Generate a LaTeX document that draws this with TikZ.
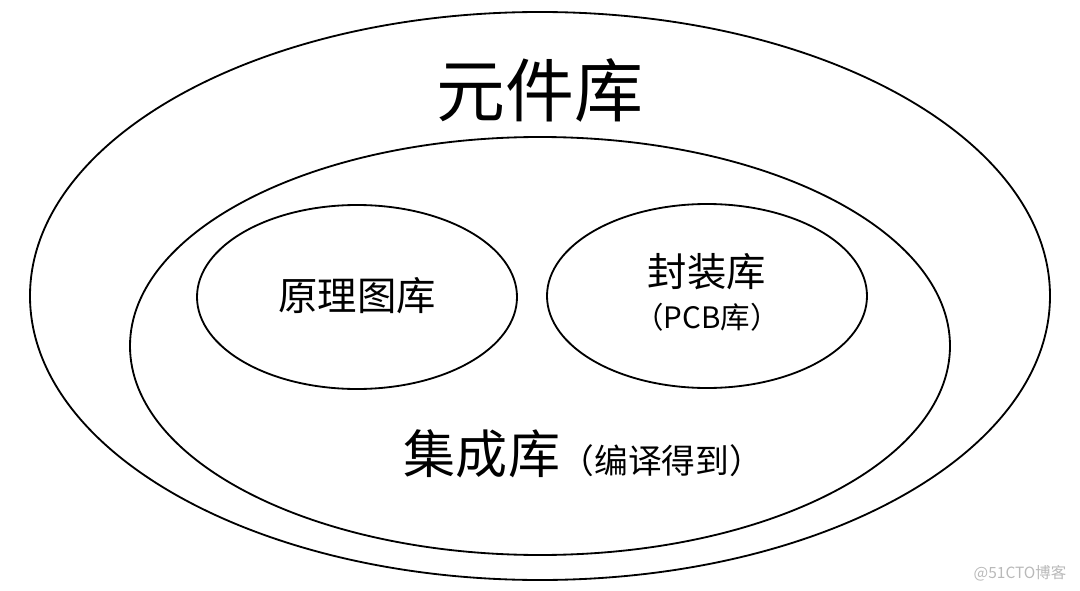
\documentclass[tikz,border=0pt]{standalone}
\usepackage{fontspec}
\newfontfamily\cjk{Noto Sans CJK SC}
\usetikzlibrary{positioning}

\begin{document}
\begin{tikzpicture}[x=0.025cm, y=-0.025cm,
  ring/.style={line width=1.3pt},
  libtext/.style={font=\cjk, inner sep=0pt, align=center}]
\useasboundingbox (0,0) rectangle (1080,591);

% Parameters (pixel units, y downwards)
\def\ringx{540}     % common centre x of the two big rings
\def\smallrx{160}   % x radius of the small rings
\def\smallry{92}    % y radius of the small rings

% Outer ring: component library
\draw[ring] (\ringx,296) ellipse [x radius=510, y radius=284];
% Middle ring: integrated library
\draw[ring] (\ringx,346) ellipse [x radius=410, y radius=209];
% The two small rings inside
\draw[ring] (357,297) ellipse [x radius=\smallrx, y radius=\smallry];
\draw[ring] (707,296) ellipse [x radius=\smallrx, y radius=\smallry];

% Labels
\node[libtext, font=\cjk\fontsize{49}{56}\selectfont] (yuanjian) at (\ringx,90) {元件库};
\node[libtext, font=\cjk\fontsize{28}{34}\selectfont] (yuanli) at (357,296) {原理图库};
\node[libtext, font=\cjk\fontsize{28}{34}\selectfont] (fengzhuang) at (707,272) {封装库};
\node[libtext, font=\cjk\fontsize{21}{26}\selectfont, below=9pt of fengzhuang] (pcb) {（PCB库）};
\node[libtext, font=\cjk\fontsize{37}{44}\selectfont] (jicheng) at (482,454) {集成库};
\node[libtext, font=\cjk\fontsize{24}{28}\selectfont, anchor=base west] (bianyi) at (jicheng.base east) {（编译得到）};

% Watermark
\node[libtext, font=\cjk\fontsize{11}{13}\selectfont, text=gray!55] (mark) at (1020,573) {@51CTO博客};
\end{tikzpicture}
\end{document}
